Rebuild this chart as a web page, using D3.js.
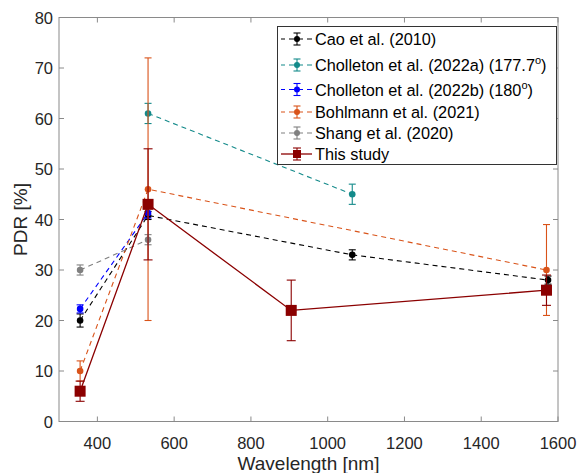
<!DOCTYPE html>
<html><head><meta charset="utf-8">
<script src="https://cdn.jsdelivr.net/npm/d3@7"></script>
<style>body{margin:0;background:#fff}svg{display:block}text{font-family:"Liberation Sans",Arial,sans-serif}</style>
</head><body><svg id="c" width="581" height="473"></svg>
<script>
// Data
const seriesNames = ["Cao et al. (2010)", "Cholleton et al. (2022a) (177.7", "Cholleton et al. (2022b) (180", "Bohlmann et al. (2021)", "Shang et al. (2020)", "This study"];
const seriesSup = ["", "o", "o", "", "", ""];
const seriesColors = ["#000000", "#138a8a", "#0000ff", "#d95319", "#808080", "#8b0000"];
const caoX = [355, 532, 1064, 1574];
const caoY = [20, 40.8, 33, 28];
const caoErr = [1.3, 0.8, 1, 0.8];
const cholAX = [532, 1064];
const cholAY = [61, 45];
const cholAErr = [2, 2];
const cholBX = [355, 532];
const cholBY = [22.3, 41.3];
const cholBErr = [0.8, 1];
const bohlX = [355, 532, 1570];
const bohlY = [10, 46, 30];
const bohlErr = [2, 26, 9];
const shangX = [355, 532];
const shangY = [30, 36];
const shangErr = [1, 1];
const studyX = [355, 532, 905, 1570];
const studyY = [6, 43, 22, 26];
const studyErr = [2, 11, 6, 3];
const xTicks = [400, 600, 800, 1000, 1200, 1400, 1600];
const yTicks = [0, 10, 20, 30, 40, 50, 60, 70, 80];

const allSeries = [
  {x: caoX, y: caoY, e: caoErr},
  {x: cholAX, y: cholAY, e: cholAErr},
  {x: cholBX, y: cholBY, e: cholBErr},
  {x: bohlX, y: bohlY, e: bohlErr},
  {x: shangX, y: shangY, e: shangErr},
  {x: studyX, y: studyY, e: studyErr}
];

const L = 59, R = 558, T = 17.5, B = 421.5;
const svg = d3.select("#c");
const x = d3.scaleLinear().domain([300, 1600]).range([L, R]);
const y = d3.scaleLinear().domain([0, 80]).range([B, T]);
const axisCol = "#8a8a8a";

// Box
svg.append("rect").attr("x", L).attr("y", T).attr("width", R - L).attr("height", B - T)
  .attr("fill", "none").attr("stroke", axisCol).attr("stroke-width", 1);

// Ticks (inward, mirrored)
const tk = 5;
xTicks.forEach(v => {
  const px = x(v);
  svg.append("line").attr("x1", px).attr("x2", px).attr("y1", B).attr("y2", B - tk).attr("stroke", axisCol);
  svg.append("line").attr("x1", px).attr("x2", px).attr("y1", T).attr("y2", T + tk).attr("stroke", axisCol);
  svg.append("text").attr("x", px).attr("y", 449).attr("text-anchor", "middle")
    .attr("font-size", 16.5).attr("fill", "#262626").text(v);
});
yTicks.forEach(v => {
  const py = y(v);
  svg.append("line").attr("x1", L).attr("x2", L + tk).attr("y1", py).attr("y2", py).attr("stroke", axisCol);
  svg.append("line").attr("x1", R).attr("x2", R - tk).attr("y1", py).attr("y2", py).attr("stroke", axisCol);
  svg.append("text").attr("x", 53).attr("y", py + 6).attr("text-anchor", "end")
    .attr("font-size", 16.5).attr("fill", "#262626").text(v);
});

// Axis labels
svg.append("text").attr("x", (L + R) / 2).attr("y", 470).attr("text-anchor", "middle")
  .attr("font-size", 19).attr("fill", "#262626").text("Wavelength [nm]");
svg.append("text").attr("transform", "translate(27," + ((T + B) / 2) + ") rotate(-90)")
  .attr("text-anchor", "middle").attr("font-size", 19).attr("fill", "#262626").text("PDR [%]");

// Series
const line = d3.line().x(d => x(d[0])).y(d => y(d[1]));
allSeries.forEach((s, i) => {
  const col = seriesColors[i];
  const g = svg.append("g");
  const pts = s.x.map((v, j) => [v, s.y[j], s.e[j]]);
  const study = i === 5;
  g.append("path").attr("d", line(pts)).attr("fill", "none").attr("stroke", col)
    .attr("stroke-width", study ? 1.3 : 1.1).attr("stroke-dasharray", study ? null : "5,4");
  const cw = study ? 4.5 : 3.5;
  pts.forEach(p => {
    const px = x(p[0]);
    g.append("line").attr("x1", px).attr("x2", px).attr("y1", y(p[1] - p[2])).attr("y2", y(p[1] + p[2]))
      .attr("stroke", col).attr("stroke-width", 1.1);
    [p[1] - p[2], p[1] + p[2]].forEach(v => {
      g.append("line").attr("x1", px - cw).attr("x2", px + cw).attr("y1", y(v)).attr("y2", y(v))
        .attr("stroke", col).attr("stroke-width", 1.1);
    });
    if (study) {
      g.append("rect").attr("x", px - 5.5).attr("y", y(p[1]) - 5.5).attr("width", 11).attr("height", 11).attr("fill", col);
    } else {
      g.append("circle").attr("cx", px).attr("cy", y(p[1])).attr("r", 3.3).attr("fill", col);
    }
  });
});

// Legend
const lg = svg.append("g");
lg.append("rect").attr("x", 277.5).attr("y", 26.5).attr("width", 279).attr("height", 138)
  .attr("fill", "#fff").attr("stroke", "#333").attr("stroke-width", 1);
const rowY = [39, 65, 89.5, 112, 133, 154];
seriesNames.forEach((name, i) => {
  const col = seriesColors[i];
  const ry = rowY[i];
  const study = i === 5;
  lg.append("line").attr("x1", 281).attr("x2", 312).attr("y1", ry).attr("y2", ry).attr("stroke", col)
    .attr("stroke-width", study ? 1.3 : 1.1).attr("stroke-dasharray", study ? null : "5,4")
    .attr("stroke-dashoffset", study ? 0 : 1);
  const cx = 297;
  const cw = study ? 4 : 3.5;
  lg.append("line").attr("x1", cx).attr("x2", cx).attr("y1", ry - 6).attr("y2", ry + 6).attr("stroke", col).attr("stroke-width", 1.1);
  [ry - 6, ry + 6].forEach(v => lg.append("line").attr("x1", cx - cw).attr("x2", cx + cw).attr("y1", v).attr("y2", v).attr("stroke", col).attr("stroke-width", 1.1));
  if (study) lg.append("rect").attr("x", cx - 4).attr("y", ry - 4).attr("width", 8).attr("height", 8).attr("fill", col);
  else lg.append("circle").attr("cx", cx).attr("cy", ry).attr("r", 3).attr("fill", col);
  const t = lg.append("text").attr("x", 315).attr("y", ry + 6).attr("font-size", 16.3).attr("fill", "#000");
  t.append("tspan").text(name);
  if (seriesSup[i]) {
    t.append("tspan").attr("font-size", 11).attr("dy", -7).text(seriesSup[i]);
    t.append("tspan").attr("dy", 7).text(")");
  }
});
</script></body></html>
